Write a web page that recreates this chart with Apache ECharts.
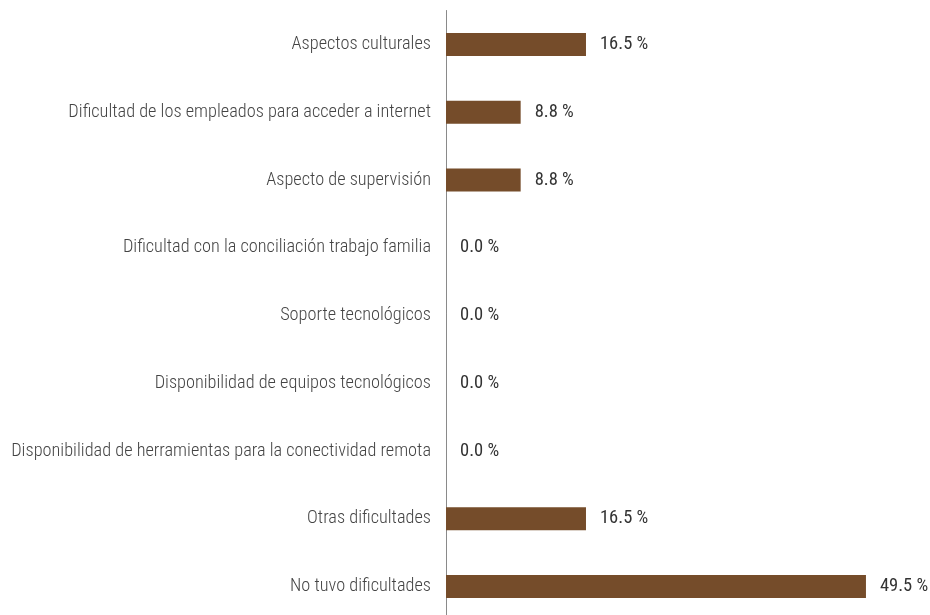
<!DOCTYPE html>
<html><head><meta charset="utf-8">
<script src="https://cdn.jsdelivr.net/npm/echarts@6/dist/echarts.min.js"></script>
<style>html,body{margin:0;padding:0;background:#fff}#c{width:930px;height:615px}</style>
</head><body><div id="c"></div>
<script>
const categories = [
  "Aspectos culturales",
  "Dificultad de los empleados para acceder a internet",
  "Aspecto de supervisión",
  "Dificultad con la conciliación trabajo familia",
  "Soporte tecnológicos",
  "Disponibilidad de equipos tecnológicos",
  "Disponibilidad de herramientas para la conectividad remota",
  "Otras dificultades",
  "No tuvo dificultades"
];
const values = [16.5, 8.8, 8.8, 0.0, 0.0, 0.0, 0.0, 16.5, 49.5];

const FONT = '"Roboto Condensed", "Liberation Sans Narrow", Roboto, sans-serif';
const chart = echarts.init(document.getElementById('c'));
chart.setOption({
  animation: false,
  grid: { left: 446, width: 424.2, top: 10.5, height: 610, containLabel: false, outerBoundsMode: 'none' },
  xAxis: { type: 'value', min: 0, max: 50, show: false },
  yAxis: {
    type: 'category', data: categories, inverse: true,
    axisLine: { show: true, lineStyle: { color: '#8a8a8a', width: 1 } },
    axisTick: { show: false },
    axisLabel: { color: '#444', fontSize: 18.3, fontWeight: 300, fontFamily: FONT, margin: 15 }
  },
  series: [{
    type: 'bar', data: values, barWidth: 23,
    itemStyle: { color: '#754C2A' },
    label: { show: true, position: 'right', distance: 14, color: '#333', fontSize: 18.5, fontWeight: 400, fontFamily: FONT,
      formatter: p => p.value.toFixed(1) + ' %' }
  }]
});
</script></body></html>
